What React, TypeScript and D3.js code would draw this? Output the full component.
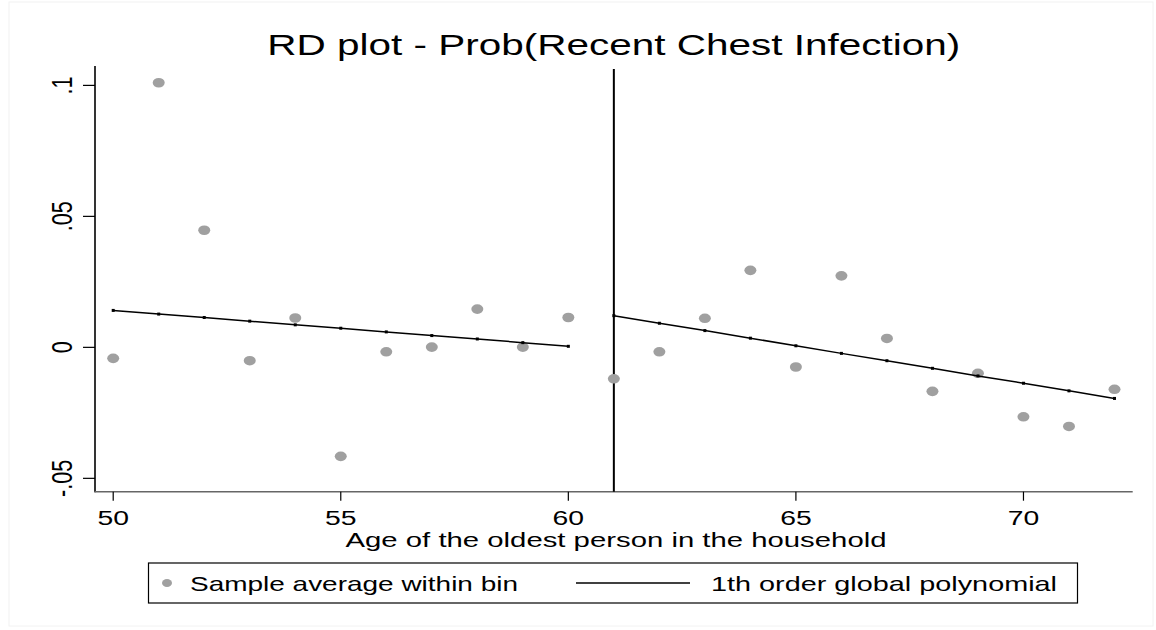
import * as d3 from 'd3'

// bins (age of the oldest person) and sample averages within each bin
const binAges = [50, 51, 52, 53, 54, 55, 56, 57, 58, 59, 60, 61, 62, 63, 64, 65, 66, 67, 68, 69, 70, 71, 72]
const binMeans = [
  -0.0042, 0.101, 0.0447, -0.0051, 0.0112, -0.0416, -0.0017, 0.0001, 0.0146, 0.0001, 0.0114,
  -0.012, -0.0017, 0.0111, 0.0294, -0.0075, 0.0273, 0.0034, -0.0168, -0.0099, -0.0265, -0.0302, -0.016,
]

// fitted 1st order polynomial, left and right of the cutoff
const leftAges = [50, 51, 52, 53, 54, 55, 56, 57, 58, 59, 60]
const leftFit = [0.0141, 0.0127, 0.0114, 0.01, 0.0086, 0.0073, 0.0059, 0.0045, 0.0032, 0.0018, 0.0004]
const rightAges = [61, 62, 63, 64, 65, 66, 67, 68, 69, 70, 71, 72]
const rightFit = [0.0121, 0.0092, 0.0064, 0.0035, 0.0006, -0.0023, -0.0051, -0.008, -0.0109, -0.0137, -0.0166, -0.0195]

const cutoff = 61
const xTicks = [50, 55, 60, 65, 70]
const yTicks = [-0.05, 0, 0.05, 0.1]
const yTickLabels = ['-.05', '0', '.05', '.1']

const W = 1156
const H = 630
const FONT = '"Liberation Sans", Arial, Helvetica, sans-serif'
const DOT = '#a0a0a0'

export default function App() {
  const x = d3.scaleLinear().domain([49.6, 72.4]).range([95, 1132.7])
  const y = d3.scaleLinear().domain([-0.0551, 0.1074]).range([491.7, 66])

  const line = d3.line<[number, number]>().x((d) => x(d[0])).y((d) => y(d[1]))
  const leftPts: [number, number][] = leftAges.map((a, i) => [a, leftFit[i]])
  const rightPts: [number, number][] = rightAges.map((a, i) => [a, rightFit[i]])

  const [y0, y1] = y.range()

  return (
    <svg width={W} height={H} style={{ position: 'fixed', left: 0, top: 0, background: '#fff' }} fontFamily={FONT}>
      <rect x={9} y={2} width={W - 12} height={H - 6} fill="none" stroke="#f2f2f2" />

      <text x={x(61)} y={55} fontSize={29} textAnchor="middle" textLength={693} lengthAdjust="spacingAndGlyphs" fill="#000">
        RD plot - Prob(Recent Chest Infection)
      </text>

      {/* axes */}
      <line x1={95} x2={95} y1={y1} y2={y0 + 0.5} stroke="#000" strokeWidth={1.6} />
      <line x1={94.5} x2={1132.7} y1={y0} y2={y0} stroke="#666" strokeWidth={1.6} />

      {yTicks.map((t, i) => (
        <g key={t}>
          <line x1={83} x2={95} y1={y(t)} y2={y(t)} stroke="#000" strokeWidth={1.2} />
          <text transform={`translate(71.5,${y(t)}) rotate(-90) scale(1,1.4)`} fontSize={21.6} textAnchor="middle" fill="#000">
            {yTickLabels[i]}
          </text>
        </g>
      ))}

      {xTicks.map((t) => (
        <g key={t}>
          <line x1={x(t)} x2={x(t)} y1={y0} y2={y0 + 9} stroke="#000" strokeWidth={1.2} />
          <text transform={`translate(${x(t)},525) scale(1.35,1)`} fontSize={21} textAnchor="middle" fill="#000">
            {t}
          </text>
        </g>
      ))}

      <text x={616} y={547} fontSize={21} textAnchor="middle" textLength={541} lengthAdjust="spacingAndGlyphs" fill="#000">
        Age of the oldest person in the household
      </text>

      {/* cutoff */}
      <line x1={x(cutoff)} x2={x(cutoff)} y1={69} y2={y0} stroke="#000" strokeWidth={2} />

      {/* bin means */}
      {binAges.map((a, i) => (
        <ellipse key={a} cx={x(a)} cy={y(binMeans[i])} rx={6} ry={4.8} fill={DOT} />
      ))}

      {/* polynomial fits */}
      {[leftPts, rightPts].map((pts, k) => (
        <g key={k}>
          <path d={line(pts) ?? ''} fill="none" stroke="#000" strokeWidth={1.5} />
          {pts.map((p) => (
            <rect key={p[0]} x={x(p[0]) - 1.5} y={y(p[1]) - 1.5} width={3} height={3} fill="#000" />
          ))}
        </g>
      ))}

      {/* legend */}
      <rect x={148.5} y={563} width={929} height={40} fill="#fff" stroke="#000" strokeWidth={1.2} />
      <ellipse cx={167} cy={583} rx={5} ry={4} fill={DOT} />
      <text x={190} y={591} fontSize={21} textLength={328} lengthAdjust="spacingAndGlyphs" fill="#000">
        Sample average within bin
      </text>
      <line x1={576} x2={690} y1={583} y2={583} stroke="#000" strokeWidth={1.5} />
      <text x={711} y={591} fontSize={21} textLength={346} lengthAdjust="spacingAndGlyphs" fill="#000">
        1th order global polynomial
      </text>
    </svg>
  )
}
